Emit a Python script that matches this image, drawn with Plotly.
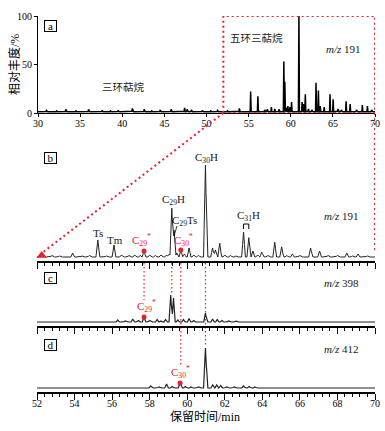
import numpy as np
import plotly.graph_objects as go

W, H = 385, 431
FONT = "Liberation Serif, Noto Sans CJK SC"
RED = "#e8202a"

# ---------------- data ----------------
# Panel a: m/z 191, 30-70 min, relative abundance (%)
a_rt = [31.0, 32.2, 33.3, 34.5, 36.0, 37.6, 38.6, 39.5, 41.2, 42.6, 43.5, 44.5, 45.8, 47.4, 47.7,
        48.2, 49.5, 50.5, 51.3, 52.5, 53.9, 55.24, 56.1, 56.9, 57.2, 57.7, 58.1, 58.6, 59.18, 59.3,
        59.5, 59.66, 59.9, 60.1, 60.97, 61.35, 61.5, 61.73, 62.1, 62.5, 63.0, 63.28, 63.5, 63.97,
        64.66, 65.03, 65.6, 66.0, 66.57, 67.05, 67.8, 68.5, 69.1, 69.6]
a_int = [1.5, 1.0, 2.5, 1.0, 2.5, 1.5, 1.0, 1.5, 3.5, 2.5, 1.0, 1.5, 2.5, 4.0, 2.5,
         2.0, 1.5, 1.0, 1.5, 1.0, 3.5, 21, 16, 2.0, 2.5, 5.0, 3.0, 2.5, 52, 31,
         4.0, 6.0, 5.0, 10, 100, 10, 8, 18, 3, 2, 30, 22, 6, 5,
         18, 13, 3, 2, 11, 8, 2, 7, 6, 2]
a_base = 1.2

# Panel b: m/z 191, 52-70 min (C30H = 100)
b_rt = [52.3, 52.8, 53.2, 53.9, 54.4, 54.8, 55.24, 55.7, 56.1, 56.5, 56.9, 57.2, 57.5, 57.7, 58.0,
        58.3, 58.6, 58.9, 59.05, 59.18, 59.3, 59.45, 59.66, 59.85, 60.1, 60.35, 60.6, 60.97, 61.35,
        61.5, 61.73, 62.0, 62.3, 62.6, 63.0, 63.28, 63.5, 63.75, 63.97, 64.3, 64.66, 65.03, 65.3,
        65.6, 66.0, 66.57, 67.05, 67.5, 68.0, 68.5, 68.8, 69.1, 69.6]
b_int = [1.1, 1.6, 1.1, 4.3, 1.1, 1.6, 18.5, 1.1, 13, 2.2, 1.6, 2.2, 1.6, 6.5, 2.2,
         1.6, 2.2, 2.2, 3.3, 53, 29, 4.3, 7.6, 3.3, 9.8, 2.2, 1.6, 100, 9.8,
         7.6, 15, 2.2, 1.6, 1.1, 27, 21, 6.5, 2.2, 5.4, 1.6, 16, 11, 1.6,
         3.3, 1.6, 9.8, 6.5, 1.6, 1.6, 4.3, 1.1, 3.3, 1.1]

# Panel c: m/z 398 (largest = 100)
c_rt = [56.3, 56.7, 57.1, 57.4, 57.7, 58.0, 58.4, 58.6, 58.85, 59.12, 59.27, 59.5, 59.8, 60.1,
        60.35, 60.97, 61.35, 61.6, 61.85, 62.2, 62.6]
c_int = [7.4, 3.7, 11, 5.6, 18.5, 5.6, 9.3, 3.7, 9.3, 100, 89, 7.4, 9.3, 13,
         5.6, 33, 11, 9.3, 5.6, 3.7, 3.0]

# Panel d: m/z 412 (largest = 100)
d_rt = [55.5, 58.06, 58.5, 58.9, 59.2, 59.62, 59.9, 60.2, 60.6, 60.97, 61.36, 61.57, 61.78,
        62.1, 62.5, 63.0, 63.3, 63.6]
d_int = [1.3, 5, 2.5, 10, 3.8, 12.5, 3.8, 2.5, 2.5, 100, 7.5, 7.5, 6.3,
         2.5, 2.5, 5, 3.8, 2.5]

x_ticks_a = [30, 35, 40, 45, 50, 55, 60, 65, 70]
x_ticks_b = [52, 54, 56, 58, 60, 62, 64, 66, 68, 70]


def chrom(x0, x1, rt, ht, hw, base=0.0):
    rt = np.asarray(rt, float)
    ht = np.asarray(ht, float)
    x = np.unique(np.round(np.concatenate([np.arange(x0, x1 + 1e-9, 0.05), rt, rt - hw, rt + hw]), 4))
    x = x[(x >= x0) & (x <= x1)]
    y = np.full_like(x, base)
    for t, h in zip(rt, ht):
        y += h * np.clip(1 - np.abs(x - t) / hw, 0, None)
    return x, y


def px(v):
    return v / W


def py(v):
    return 1 - v / H


fig = go.Figure()

xa, ya = chrom(30, 70, a_rt, a_int, 0.06, a_base)
fig.add_trace(go.Scatter(x=xa, y=ya, mode="lines", line=dict(color="black", width=1.5),
                         xaxis="x", yaxis="y", hoverinfo="skip"))
xb, yb = chrom(52, 70, b_rt, b_int, 0.1)
fig.add_trace(go.Scatter(x=xb, y=yb, mode="lines", line=dict(color="#222", width=1),
                         xaxis="x2", yaxis="y2", hoverinfo="skip"))
xc, yc = chrom(52, 70, c_rt, c_int, 0.09)
fig.add_trace(go.Scatter(x=xc, y=yc, mode="lines", line=dict(color="#222", width=1.2),
                         xaxis="x3", yaxis="y3", hoverinfo="skip"))
xd, yd = chrom(52, 70, d_rt, d_int, 0.1)
fig.add_trace(go.Scatter(x=xd, y=yd, mode="lines", line=dict(color="#222", width=1.2),
                         xaxis="x4", yaxis="y4", hoverinfo="skip"))


def h_of(rt, ht, t):
    return ht[rt.index(t)]


# red dots on rearranged hopanes
fig.add_trace(go.Scatter(x=[57.7, 59.66], y=[h_of(b_rt, b_int, 57.7), h_of(b_rt, b_int, 59.66)],
                         mode="markers", marker=dict(color=RED, size=5), xaxis="x2", yaxis="y2",
                         cliponaxis=False, hoverinfo="skip"))
fig.add_trace(go.Scatter(x=[57.7], y=[h_of(c_rt, c_int, 57.7)], mode="markers",
                         marker=dict(color=RED, size=5), xaxis="x3", yaxis="y3",
                         cliponaxis=False, hoverinfo="skip"))
fig.add_trace(go.Scatter(x=[59.62], y=[h_of(d_rt, d_int, 59.62)], mode="markers",
                         marker=dict(color=RED, size=5), xaxis="x4", yaxis="y4",
                         cliponaxis=False, hoverinfo="skip"))
# triangles at the zoom edges
fig.add_trace(go.Scatter(x=[52.25], y=[1.6], mode="markers",
                         marker=dict(color=RED, size=9, symbol="triangle-up"),
                         xaxis="x2", yaxis="y2", cliponaxis=False, hoverinfo="skip"))
fig.add_trace(go.Scatter(x=[70.05], y=[3.8], mode="markers",
                         marker=dict(color=RED, size=9, symbol="triangle-down"),
                         xaxis="x2", yaxis="y2", cliponaxis=False, hoverinfo="skip"))

tickfont = dict(family=FONT, size=10, color="black")
xdom_a = [px(38), px(375)]
xdom_b = [px(37), px(375)]

common_x = dict(showgrid=False, zeroline=False, showline=True, linecolor="black",
                ticks="outside", tickcolor="black", tickfont=tickfont, automargin=False)

layout = dict(
    template="none",
    width=W, height=H, margin=dict(l=0, r=0, t=0, b=0, pad=0), autosize=False,
    paper_bgcolor="white", plot_bgcolor="rgba(0,0,0,0)", showlegend=False,
    font=dict(family=FONT, color="black"),
    xaxis=dict(domain=xdom_a, range=[30, 70], anchor="y", tickvals=x_ticks_a,
               ticklen=3, linewidth=1, ticklabelstandoff=-2, **common_x),
    yaxis=dict(domain=[py(113), py(16)], range=[0, 100], anchor="x", tickvals=[0, 50, 100],
               showgrid=False, zeroline=False, showline=True, linecolor="black", linewidth=1,
               ticks="outside", ticklen=3, tickcolor="black", tickfont=tickfont, automargin=False),
)
for i, (dom, rng, lab) in enumerate([
        ([py(261), py(150)], [-4.35, 116.3], False),
        ([py(326), py(285)], [-14.8, 137], False),
        ([py(392), py(340)], [-10, 120], True)], start=2):
    layout[f"xaxis{i}"] = dict(domain=xdom_b, range=[52, 70], anchor=f"y{i}", tickvals=x_ticks_b,
                               showticklabels=lab, ticklen=6, linewidth=2,
                               ticklabelstandoff=-5,
                               minor=dict(ticks="outside", ticklen=3, tick0=52, dtick=0.4,
                                          tickcolor="black", showgrid=False),
                               **common_x)
    layout[f"yaxis{i}"] = dict(domain=dom, range=rng, anchor=f"x{i}", visible=False, automargin=False)
fig.update_layout(**layout)

shapes = []
dotr = dict(color=RED, width=2, dash="2px,3px")
# zoom rectangle on panel a
shapes.append(dict(type="rect", xref="x", yref="y", x0=52, x1=70, y0=0, y1=100, line=dotr))
shapes.append(dict(type="line", xref="paper", yref="paper", x0=px(223.4), y0=py(113),
                   x1=px(42), y1=py(253), line=dotr))
shapes.append(dict(type="line", xref="x", yref="paper", x0=70, x1=70, y0=py(113), y1=py(250),
                   line=dotr))
# vertical guides across panels b, c, d
thin = dict(color=RED, width=1.2, dash="1.5px,2.5px")
for xv, y1 in [(57.7, 300), (59.18, 294), (59.66, 367), (60.97, 347)]:
    shapes.append(dict(type="line", xref="x2", yref="paper", x0=xv, x1=xv, y0=py(263), y1=py(y1),
                       line=thin, layer="below"))
# C29Ts leader and C31H bracket
shapes.append(dict(type="line", xref="paper", yref="paper", x0=px(177), y0=py(226),
                   x1=px(174), y1=py(236), line=dict(color="black", width=0.8)))
shapes.append(dict(type="path", xref="x2", yref="paper",
                   path=f"M 63.0,{py(229)} L 63.0,{py(224)} L 63.28,{py(224)} L 63.28,{py(229)}",
                   line=dict(color="black", width=1)))
fig.update_layout(shapes=shapes)

ann = []


def label(text, x, y, size=11, color="#1a1a1a", **kw):
    ann.append(dict(text=text, x=px(x), y=py(y), xref="paper", yref="paper", showarrow=False,
                    xanchor="center", yanchor="middle", font=dict(family=FONT, size=size, color=color), **kw))


for t, yy in [("a", 26), ("b", 157.5), ("c", 278), ("d", 344.5)]:
    label(t, 50.5, yy, size=11, color="black", bordercolor="black", borderwidth=1, borderpad=0,
          width=11, height=10)

label("三环萜烷", 123, 87, size=10.5)
label("五环三萜烷", 256, 38, size=10.5)
label("<i>m/z</i> 191", 343, 49)
label("<i>m/z</i> 191", 341, 216)
label("<i>m/z</i> 398", 341, 283)
label("<i>m/z</i> 412", 341, 349)
label("Ts", 98, 233)
label("Tm", 115, 240.5)
label("C<sub>29</sub>H", 173, 200)
label("C<sub>29</sub>Ts", 184, 221)
label("C<sub>30</sub>H", 207, 158)
label("C<sub>31</sub>H", 248, 216)
label("C<sub>29</sub><sup>*</sup>", 141, 240, color=RED)
label("C<sub>30</sub><sup>*</sup>", 183, 240, color=RED)
label("C<sub>29</sub><sup>*</sup>", 146, 306, color=RED)
label("C<sub>30</sub><sup>*</sup>", 180, 372, color=RED)
label("相对丰度/%", 15, 65, size=12, color="black", textangle=-90)
label("保留时间/min", 205, 417, size=12, color="black")
fig.update_layout(annotations=ann)

fig.write_html("out.html", config={"displayModeBar": False, "staticPlot": True},
               post_script="document.body.style.margin='0';document.body.style.overflow='hidden';")
